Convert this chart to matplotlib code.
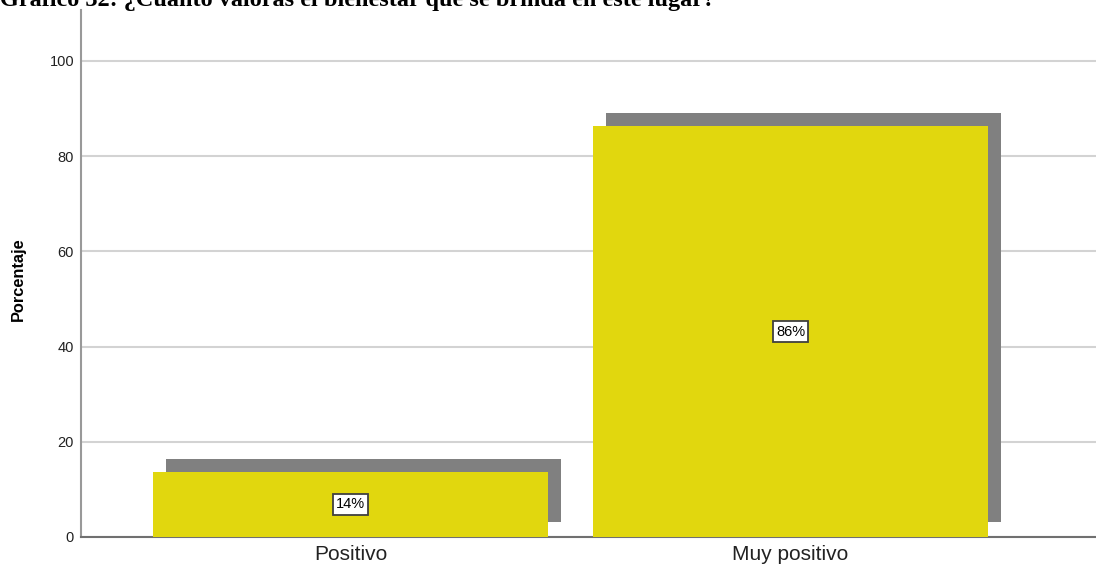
import matplotlib.pyplot as plt

categories = ["Positivo", "Muy positivo"]
values = [13.7, 86.3]
labels = ["14%", "86%"]
yticks = [0, 20, 40, 60, 80, 100]

title = "Gráfico 32: ¿Cuánto valoras el bienestar que se brinda en este lugar?"

fig = plt.figure(figsize=(10.96, 5.69), dpi=100)
ax = fig.add_axes([81 / 1096, 1 - 537 / 569, 1015 / 1096, 527 / 569])

x = list(range(len(categories)))
width = 0.898
# shadow offsets (data units)
dx = 0.0295
dy = 2.73
shadow_base = 3.15

# shadows
ax.bar([i + dx for i in x], [v + dy - shadow_base for v in values], width=width,
       bottom=shadow_base, color="#808080", zorder=2)
# bars
ax.bar(x, values, width=width, color="#E1D70E", zorder=3)

for i, v in enumerate(values):
    ax.text(x[i], v / 2, labels[i], ha="center", va="center", fontsize=10.5,
            family="Liberation Sans", zorder=4,
            bbox=dict(boxstyle="square,pad=0.22", facecolor="white",
                      edgecolor="#404040", linewidth=1.3))

ax.set_xlim(-0.6125, 1.694)
ax.set_ylim(0, 110.7)
ax.set_yticks(yticks)
ax.set_xticks(x)
ax.set_xticklabels(categories, fontsize=15, family="Liberation Sans")
for t in ax.get_yticklabels():
    t.set_family("Liberation Sans")
    t.set_fontsize(10.5)
ax.tick_params(axis="both", length=0, colors="#222222")
ax.tick_params(axis="y", pad=5)
ax.tick_params(axis="x", pad=6)

ax.yaxis.grid(True, color="#D3D3D3", linewidth=1.5, zorder=0)
ax.set_axisbelow(True)
for s in ["top", "right"]:
    ax.spines[s].set_visible(False)
ax.spines["left"].set_color("#999999")
ax.spines["left"].set_linewidth(1.5)
ax.spines["bottom"].set_color("#707070")
ax.spines["bottom"].set_linewidth(1.5)

ax.set_ylabel("Porcentaje", fontsize=11.8, fontweight="bold",
              family="Liberation Sans")
ax.yaxis.set_label_coords(-0.054, 0.49)

fig.text(0.0, 1 - 6 / 569, title, ha="left", va="baseline", fontsize=17.5,
         fontweight="bold", family="Liberation Serif")

fig.savefig("out.png", dpi=100)
